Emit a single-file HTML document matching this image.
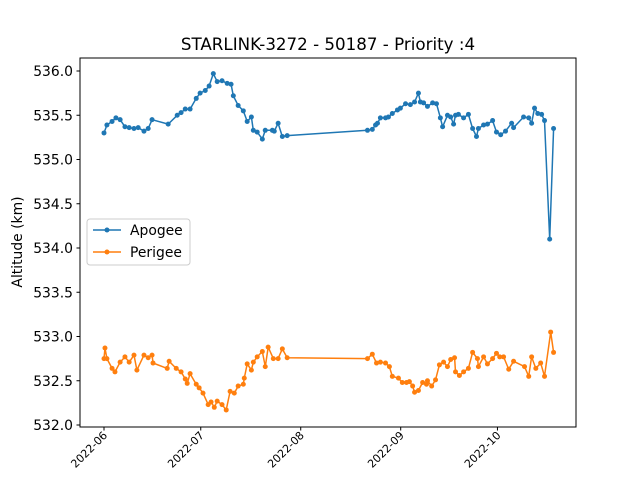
<!DOCTYPE html>
<html><head><meta charset="utf-8"><style>
body{margin:0;background:#fff}
svg{font-family:"DejaVu Sans","Liberation Sans",sans-serif}
</style></head><body>
<svg id="chart" width="640" height="480" xmlns="http://www.w3.org/2000/svg">
<rect width="640" height="480" fill="#fff"/>
<text x="328" y="50" font-size="16.7" text-anchor="middle" fill="#000">STARLINK-3272 - 50187 - Priority :4</text>
<text transform="translate(22,242) rotate(-90)" font-size="13.9" text-anchor="middle">Altitude (km)</text>
<g id="marks"></g>
<rect x="80" y="58" width="496" height="369" fill="none" stroke="#000" stroke-width="1"/>
<g id="axes"></g>
<g>
<rect x="87" y="219" width="103" height="46" rx="3" fill="#fff" fill-opacity="0.8" stroke="#ccc"/>
<g>
<line x1="93" y1="230" x2="121" y2="230" stroke="#1f77b4" stroke-width="1.5"/><circle cx="107" cy="230" r="2.5" fill="#1f77b4"/>
<text x="130" y="235" font-size="13.9">Apogee</text></g>
<g>
<line x1="93" y1="252" x2="121" y2="252" stroke="#ff7f0e" stroke-width="1.5"/><circle cx="107" cy="252" r="2.5" fill="#ff7f0e"/>
<text x="130" y="257" font-size="13.9">Perigee</text></g>
</g>
</svg>
<script>
const apogeeDays=[0,0.9,2.5,3.7,5.0,6.5,7.8,9.3,10.6,12.4,13.7,14.9,19.9,22.7,23.9,25.2,26.7,28.6,29.8,31.4,32.6,33.9,35.1,36.6,38.2,39.4,40.1,41.6,43.2,44.4,45.7,46.3,47.5,49.1,50.0,52.2,52.8,54.0,55.3,56.8,81.7,83.2,84.2,84.8,85.7,87.3,88.2,89.4,91.0,91.9,93.5,95.0,96.3,97.5,98.1,99.1,100.3,101.9,103.1,104.3,105.0,106.5,107.5,108.4,109.0,109.9,111.5,113.0,114.3,115.5,116.1,117.7,118.9,120.5,121.7,123.0,124.5,126.4,127.0,130.1,131.7,132.6,133.5,134.5,135.7,136.6,138.2,139.4];
const apogeeValues=[535.30,535.39,535.43,535.47,535.45,535.37,535.36,535.35,535.36,535.32,535.35,535.45,535.40,535.50,535.53,535.57,535.57,535.69,535.75,535.78,535.83,535.97,535.88,535.89,535.86,535.85,535.72,535.61,535.55,535.43,535.48,535.33,535.31,535.23,535.33,535.33,535.32,535.41,535.26,535.27,535.33,535.34,535.39,535.41,535.47,535.47,535.48,535.52,535.56,535.58,535.63,535.62,535.65,535.75,535.65,535.64,535.60,535.64,535.63,535.47,535.37,535.50,535.48,535.40,535.50,535.51,535.47,535.51,535.35,535.26,535.35,535.39,535.40,535.44,535.31,535.28,535.32,535.41,535.36,535.48,535.47,535.41,535.58,535.52,535.51,535.44,534.10,535.35];
const perigeeDays=[0,0.3,0.9,2.5,3.4,5.0,6.5,7.8,9.3,10.2,12.4,13.7,14.9,15.2,19.6,20.2,22.4,23.9,25.2,25.8,26.7,28.6,29.5,30.7,32.3,33.2,34.2,35.1,36.6,37.9,39.1,40.4,41.6,43.2,43.5,44.4,45.7,46.3,47.5,49.1,50.0,50.9,52.5,54.0,55.3,56.8,81.7,83.2,84.5,85.7,87.3,88.5,89.4,91.3,92.5,93.8,94.7,95.7,96.3,97.5,98.8,100.0,100.3,101.6,102.8,104.0,105.3,106.5,107.5,108.7,109.0,110.2,111.5,113.0,114.3,115.8,116.1,117.7,118.9,120.5,121.7,122.7,123.9,125.5,127.0,130.4,131.7,132.6,133.9,135.4,136.6,138.5,139.4];
const perigeeValues=[532.75,532.87,532.75,532.64,532.60,532.71,532.77,532.71,532.79,532.62,532.79,532.76,532.79,532.70,532.64,532.72,532.64,532.60,532.52,532.47,532.58,532.46,532.42,532.36,532.23,532.26,532.20,532.27,532.23,532.17,532.38,532.36,532.44,532.46,532.53,532.69,532.62,532.71,532.77,532.83,532.66,532.88,532.75,532.75,532.86,532.76,532.75,532.80,532.70,532.71,532.70,532.66,532.55,532.53,532.48,532.48,532.49,532.44,532.37,532.39,532.48,532.46,532.50,532.44,532.51,532.68,532.71,532.66,532.74,532.76,532.60,532.56,532.60,532.64,532.82,532.75,532.66,532.77,532.69,532.75,532.81,532.77,532.77,532.63,532.72,532.66,532.55,532.77,532.64,532.70,532.55,533.05,532.82];
const xTickDays=[0,30,61,92,122];
const xTickLabels=["2022-06","2022-07","2022-08","2022-09","2022-10"];
const yTicks=[532.0,532.5,533.0,533.5,534.0,534.5,535.0,535.5,536.0];

const NS="http://www.w3.org/2000/svg";
const xS=d=>104+d*3.225;
const yS=v=>425-(v-532)*88.5;
const marks=document.getElementById('marks');
const axes=document.getElementById('axes');
function mk(tag,attrs,parent){const e=document.createElementNS(NS,tag);for(const k in attrs)e.setAttribute(k,attrs[k]);parent.appendChild(e);return e;}

function series(days,vals,color,name){
  const g=mk('g',{},marks);
  
  
  const pts=days.map((d,i)=>xS(d).toFixed(1)+','+yS(vals[i]).toFixed(1)).join(' ');
  const pl=mk('polyline',{points:pts,fill:'none',stroke:color,'stroke-width':1.5,'stroke-linejoin':'round'},g);
  
  
  days.forEach((d,i)=>{
    const c=mk('circle',{cx:xS(d),cy:yS(vals[i]),r:2.5,fill:color},g);
    
    
  });
}
series(apogeeDays,apogeeValues,'#1f77b4','apogee');
series(perigeeDays,perigeeValues,'#ff7f0e','perigee');

yTicks.forEach(v=>{
  const y=yS(v);
  const t=mk('line',{x1:76.5,x2:80,y1:y,y2:y,stroke:'#000'},axes);
  
  
  const l=mk('text',{x:73,y:y+5,'font-size':13.9,'text-anchor':'end'},axes);
  l.textContent=v.toFixed(1);
  
  
});
xTickDays.forEach((d,i)=>{
  const x=xS(d);
  const t=mk('line',{x1:x,x2:x,y1:427,y2:430.5,stroke:'#000'},axes);
  
  
  const l=mk('text',{transform:`translate(${x+4},436) rotate(-45)`,'font-size':11,'text-anchor':'end'},axes);
  l.textContent=xTickLabels[i];
  
  
});
</script>
</body></html>
